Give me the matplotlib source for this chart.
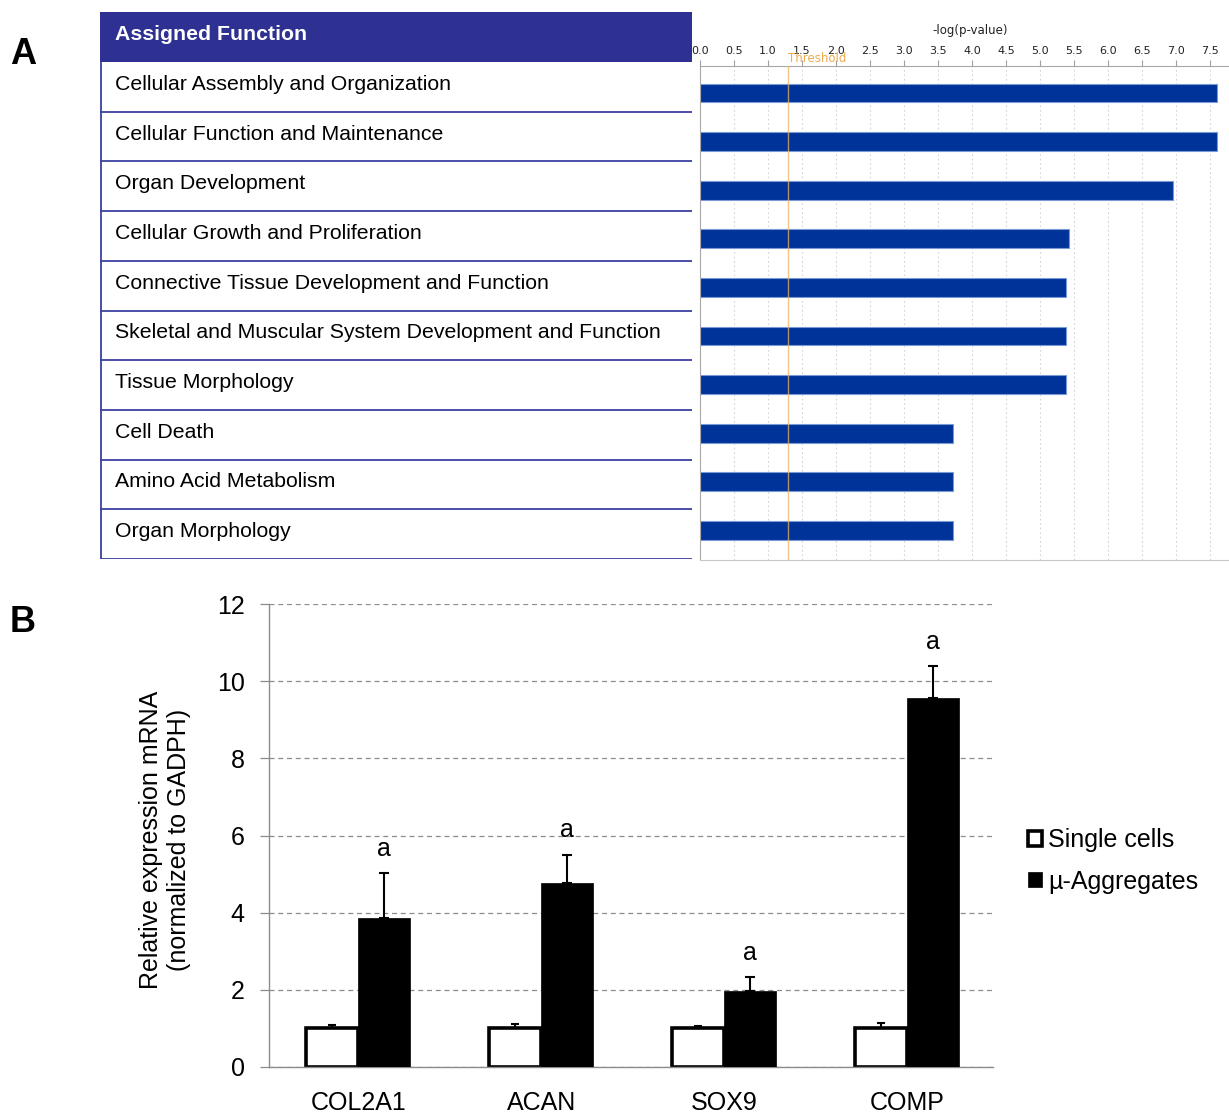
import matplotlib
matplotlib.use("Agg")
import matplotlib.pyplot as plt
import numpy as np

# ---------------- data ----------------
functions = [
    "Cellular Assembly and Organization",
    "Cellular Function and Maintenance",
    "Organ Development",
    "Cellular Growth and Proliferation",
    "Connective Tissue Development and Function",
    "Skeletal and Muscular System Development and Function",
    "Tissue Morphology",
    "Cell Death",
    "Amino Acid Metabolism",
    "Organ Morphology",
]
neg_log_p = [7.60, 7.60, 6.95, 5.42, 5.38, 5.38, 5.38, 3.72, 3.72, 3.72]
threshold = 1.3
p_ticks = [0.0, 0.5, 1.0, 1.5, 2.0, 2.5, 3.0, 3.5, 4.0, 4.5, 5.0, 5.5, 6.0, 6.5, 7.0, 7.5]

genes = ["COL2A1", "ACAN", "SOX9", "COMP"]
single_mean = [1.00, 1.00, 1.00, 1.00]
single_err = [0.10, 0.12, 0.07, 0.15]
agg_mean = [3.86, 4.77, 1.97, 9.56]
agg_err = [1.17, 0.73, 0.36, 0.83]
sig_marks = ["a", "a", "a", "a"]
expr_ticks = [0, 2, 4, 6, 8, 10, 12]

W, H = 1229, 1115
fig = plt.figure(figsize=(W / 100, H / 100), dpi=100)


def px_axes(x0, y0, x1, y1):
    """Axes placed by pixel box (left, top, right, bottom)."""
    return fig.add_axes([x0 / W, 1 - y1 / H, (x1 - x0) / W, (y1 - y0) / H])


# ---------------- panel A: function table ----------------
header_blue = "#2E3192"
line_blue = "#3B40A0"
tab = px_axes(100, 12, 692, 559)
tab.set_xlim(0, 1)
n = len(functions)
header_h = 50 / 49.6
tab.set_ylim(n, -header_h)
tab.axis("off")
tab.add_patch(plt.Rectangle((0, -header_h), 1, header_h, color=header_blue, lw=0))
tab.text(0.025, -header_h / 2 - 0.06, "Assigned Function", color="white",
         fontsize=15.3, fontweight="bold", va="center", ha="left",
         family="Liberation Sans")
for i, name in enumerate(functions):
    tab.text(0.025, i + 0.45, name, fontsize=15.3, va="center", ha="left",
             family="Liberation Sans", color="black")
    tab.plot([0, 1], [i + 1, i + 1], color=line_blue, lw=1.3, solid_capstyle="butt")
tab.plot([0.0015, 0.0015], [0, n], color=line_blue, lw=1.3)

# ---------------- panel A: bar chart ----------------
axa = px_axes(700, 66, 1229, 560)
y = np.arange(n)
axa.barh(y, neg_log_p, height=0.39, color="#003399", edgecolor="#7A9AD6",
         linewidth=0.8, zorder=2)
axa.axvline(threshold, color="#EDB25E", lw=1.0, alpha=0.75, zorder=3)
axa.set_xlim(0, 529 / 68)
axa.set_ylim(9.61, -0.556)
axa.xaxis.tick_top()
axa.set_xticks(p_ticks)
axa.set_xticklabels([f"{t:.1f}" for t in p_ticks])
axa.tick_params(axis="x", length=4, width=0.8, color="#A0A0A0", pad=3,
                labelsize=8, labelcolor="#222222")
axa.set_yticks([])
for t in p_ticks[1:]:
    axa.axvline(t, color="#D4D4D4", lw=0.8, ls=(0, (1.5, 2.5)), zorder=1)
for side in ["left", "top"]:
    axa.spines[side].set_color("#A8A8A8")
axa.spines["bottom"].set_color("#C8C8C8")
axa.spines["right"].set_visible(False)
top_coords = ("data", "axes fraction")
axa.annotate("-log(p-value)", xy=(3.97, 1.0), xycoords=top_coords,
             xytext=(0, 21), textcoords="offset points", fontsize=8.5,
             ha="center", va="bottom", color="#222222")
axa.annotate("Threshold", xy=(threshold, 1.0), xycoords=top_coords,
             xytext=(0, 1), textcoords="offset points", fontsize=8.5,
             ha="left", va="bottom", color="#EDA23E", alpha=0.9)

# ---------------- panel B: expression bars ----------------
axb = px_axes(269, 604, 993, 1067)
x = np.arange(len(genes))
w = 0.285
grid_c = "#8C8C8C"
axb.set_axisbelow(True)
axb.yaxis.grid(True, color=grid_c, ls=(0, (4, 3)), lw=0.9)
b1 = axb.bar(x - w / 2, single_mean, width=w, color="white", edgecolor="black",
             linewidth=2.6, label="Single cells", zorder=2)
axb.errorbar(x - w / 2, single_mean, yerr=[[0] * len(x), single_err], fmt="none",
             ecolor="black", elinewidth=1.5, capsize=3.2, capthick=1.5, zorder=3)
b2 = axb.bar(x + w / 2, agg_mean, width=w, color="black", edgecolor="black",
             linewidth=0.5, label="\u00b5-Aggregates", zorder=3)
axb.errorbar(x + w / 2, agg_mean, yerr=[[0] * len(x), agg_err], fmt="none",
             ecolor="black", elinewidth=1.5, capsize=3.8, capthick=1.5, zorder=4)
for xi, m, e, s in zip(x, agg_mean, agg_err, sig_marks):
    axb.text(xi + w / 2, m + e + 0.45, s, ha="center", va="baseline",
             fontsize=18, family="Liberation Sans")
axb.set_xlim(-0.488, 3.47)
axb.set_ylim(0, 12)
axb.set_yticks(expr_ticks)
axb.set_xticks(x)
axb.set_xticklabels(genes)
axb.tick_params(axis="y", length=6.5, width=0.9, color=grid_c, pad=11,
                labelsize=18)
axb.tick_params(axis="x", length=0, pad=17, labelsize=18)
for lab in axb.get_xticklabels() + axb.get_yticklabels():
    lab.set_family("Liberation Sans")
for side in ["top", "right"]:
    axb.spines[side].set_visible(False)
for side in ["left", "bottom"]:
    axb.spines[side].set_color(grid_c)
    axb.spines[side].set_linewidth(1.0)

fig.text(165 / W, 1 - 840 / H,
         "Relative expression mRNA\n(normalized to GADPH)",
         rotation=90, ha="center", va="center", multialignment="center",
         fontsize=18, family="Liberation Sans")

axb.legend(handles=[b1, b2], loc="center left",
           bbox_to_anchor=(1028 / W, 1 - 861 / H), bbox_transform=fig.transFigure,
           frameon=False, handlelength=0.55, handleheight=0.55,
           handletextpad=0.25, labelspacing=0.7, borderpad=0, borderaxespad=0,
           prop={"family": "Liberation Sans", "size": 18})

# panel letters
fig.text(23 / W, 1 - 55 / H, "A", fontsize=26, fontweight="bold", ha="center",
         va="center", family="Liberation Sans")
fig.text(23 / W, 1 - 622 / H, "B", fontsize=26, fontweight="bold", ha="center",
         va="center", family="Liberation Sans")

fig.savefig("out.png", dpi=100, facecolor="white")
